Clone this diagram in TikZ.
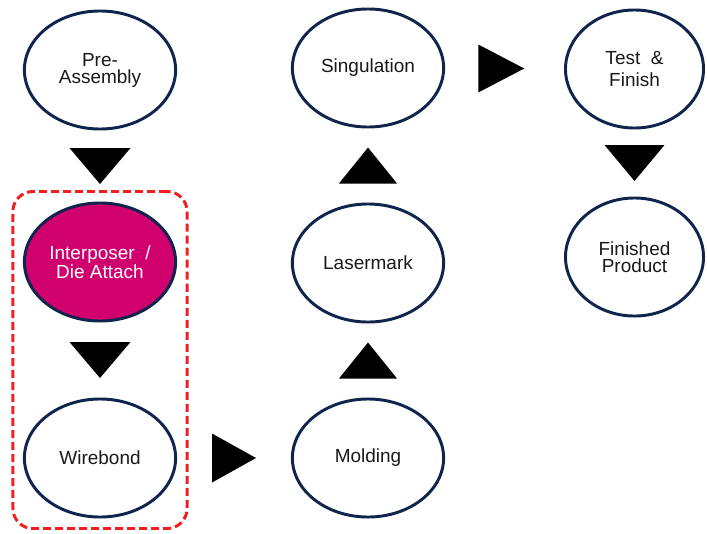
\documentclass[tikz,border=0pt]{standalone}
\usepackage{fontspec}
\setmainfont{Liberation Sans}
\usetikzlibrary{shapes.geometric,calc,fit}
\definecolor{StageNavy}{RGB}{16,37,77}
\definecolor{DieMagenta}{RGB}{208,0,111}
\definecolor{BoxRed}{RGB}{240,30,30}
\definecolor{LabelGray}{RGB}{25,25,25}

\begin{document}
\begin{tikzpicture}[x=0.025cm, y=-0.025cm,
  every node/.style={align=center, font=\fontsize{13.5}{12}\selectfont},
  stage/.style={draw=StageNavy, line width=2.1pt, ellipse, minimum width=3.78cm, minimum height=2.95cm, inner sep=0pt, text=LabelGray, fill=white},
  narrow/.style={minimum width=3.45cm},
  flowtri/.style={fill=black}]
\useasboundingbox (0,0) rectangle (707,533);
\node[stage] (pre) at (100,70) {Pre-\\Assembly};
\node[stage, fill=DieMagenta, text=white] (inter) at (100,262) {Interposer \ /\\Die Attach};
\node[stage] (wire) at (100,458) {Wirebond};
\node[stage] (mold) at (368,458) {Molding};
\node[stage] (laser) at (368,263) {Lasermark};
\node[stage] (sing) at (368,68) {Singulation};
\node[stage, narrow] (test) at (634.5,69) {Test \ \&\\[3.5pt]Finish};
\node[stage, narrow] (fin) at (634.5,257) {Finished\\Product};
\node[draw=BoxRed, line width=2.1pt, dash pattern=on 0.2cm off 0.1cm, rounded corners=0.5cm, inner sep=0.25cm, fit=(inter)(wire)] (group) {};
% flow triangles
\fill[flowtri] ($(pre)!0.5!(inter)$) +(-30.5,-18) -- +(30.5,-18) -- +(0,18) -- cycle;
\fill[flowtri] ($(inter)!0.5!(wire)$) +(-30.5,-18) -- +(30.5,-18) -- +(0,18) -- cycle;
\fill[flowtri] ($(wire)!0.5!(mold)$) +(-22,-24.5) -- +(-22,24.5) -- +(22,0) -- cycle;
\fill[flowtri] ($(mold)!0.5!(laser)$) +(-29,18) -- +(29,18) -- +(0,-18) -- cycle;
\fill[flowtri] ($(laser)!0.5!(sing)$) +(-29,18) -- +(29,18) -- +(0,-18) -- cycle;
\fill[flowtri] ($(sing)!0.5!(test)$) +(-23,-24) -- +(-23,24) -- +(23,0) -- cycle;
\fill[flowtri] ($(test)!0.5!(fin)$) +(-30,-18) -- +(30,-18) -- +(0,18) -- cycle;
\end{tikzpicture}
\end{document}
